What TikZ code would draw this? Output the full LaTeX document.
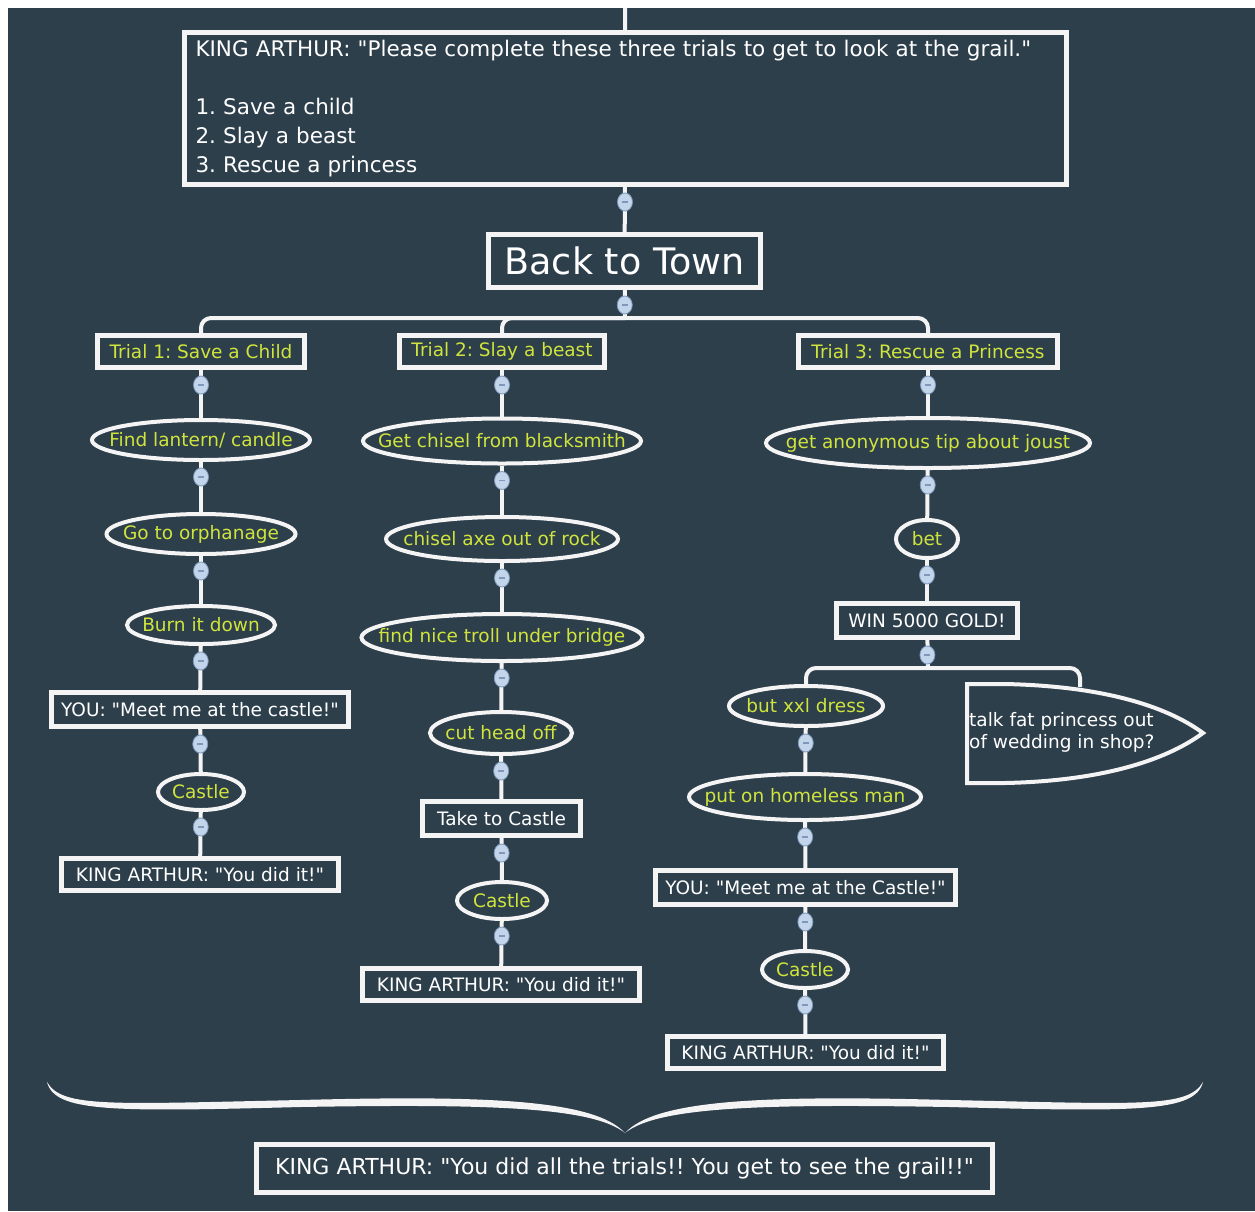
\documentclass[tikz,border=0pt]{standalone}
\usepackage{fontspec}
\setmainfont[Ligatures=TeXOff]{DejaVu Sans}
\frenchspacing
\usetikzlibrary{shapes.geometric}
\definecolor{bg}{HTML}{2E3F4C}
\definecolor{edge}{HTML}{F4F4F4}
\definecolor{hint}{HTML}{CFE43C}
\definecolor{tog}{HTML}{C3D5EA}
\definecolor{togdark}{HTML}{7D98BA}
\def\tx#1{\makebox[0pt]{#1}}
\def\hop#1#2{\draw[link] (#1) -- node[toggle, pos=0, yshift=-15pt] {} (#2);}
\tikzset{
	box/.style={rectangle, draw=edge, line width=5pt, fill=bg, inner sep=0pt, text=white, font=\fontsize{18.5}{22}\selectfont},
	trial/.style={box, text=hint},
	task/.style={ellipse, draw=edge, line width=4pt, fill=bg, inner sep=0pt, text=hint, font=\fontsize{18.5}{22}\selectfont},
	link/.style={draw=edge, line width=4pt},
	toggle/.style={ellipse, minimum width=15pt, minimum height=18pt, inner sep=0pt, fill=tog, draw=togdark, line width=0.8pt,
		path picture={\draw[togdark, line width=1.5pt] ([xshift=-3pt]path picture bounding box.center) -- ([xshift=3pt]path picture bounding box.center);}}
}

\begin{document}
\begin{tikzpicture}[x=1pt, y=-1pt]
			%%%%% START %%%%%
			\useasboundingbox (0,0) rectangle (1255,1211);
			\fill[white] (0,0) rectangle (1255,1211);
			\fill[bg] (8,8) rectangle (1255,1211);
			
			\node[box, minimum width=882pt, minimum height=152pt, text width=860pt, align=left, font=\fontsize{21.5}{29}\selectfont] (intro) at (625.5,108.5)
				{\mbox{KING ARTHUR: "Please complete these three trials to get to look at the grail."}\\[29pt]1. Save a child\\2. Slay a beast\\3. Rescue a princess};
			\node[box, minimum width=272pt, minimum height=53pt, font=\fontsize{36.5}{40}\selectfont] (town) at (624.5,261) {Back to Town};
			
			\node[trial, minimum width=207pt, minimum height=32pt] (trial1) at (201,351.5) {Trial 1: Save a Child};
			\node[trial, minimum width=205pt, minimum height=32pt] (trial2) at (502,351.5) {Trial 2: Slay a beast};
			\node[trial, minimum width=259pt, minimum height=32pt] (trial3) at (928,351.5) {Trial 3: Rescue a Princess};
			
			% trial 1
			\node[task, minimum width=218pt, minimum height=40pt] (lantern) at (201,440) {\tx{Find lantern/ candle}};
			\node[task, minimum width=189pt, minimum height=40pt] (orphan) at (201,534) {\tx{Go to orphanage}};
			\node[task, minimum width=148pt, minimum height=38pt] (burn) at (201,625) {\tx{Burn it down}};
			\node[box, minimum width=297pt, minimum height=34pt] (meet1) at (200,709.5) {YOU: "Meet me at the castle!"};
			\node[task, minimum width=86pt, minimum height=36pt] (castle1) at (201,792) {\tx{Castle}};
			\node[box, minimum width=277pt, minimum height=32pt] (done1) at (200,874.5) {KING ARTHUR: "You did it!"};
			
			% trial 2
			\node[task, minimum width=278pt, minimum height=45pt] (chisel) at (502,441) {\tx{Get chisel from blacksmith}};
			\node[task, minimum width=232pt, minimum height=44pt] (axe) at (502,539) {\tx{chisel axe out of rock}};
			\node[task, minimum width=281pt, minimum height=47pt] (troll) at (502,637.5) {\tx{find nice troll under bridge}};
			\node[task, minimum width=142pt, minimum height=42pt] (head) at (501,733) {\tx{cut head off}};
			\node[box, minimum width=158pt, minimum height=34pt] (take) at (501.5,818.5) {Take to Castle};
			\node[task, minimum width=90pt, minimum height=37pt] (castle2) at (502,900.5) {\tx{Castle}};
			\node[box, minimum width=277pt, minimum height=32pt] (done2) at (501,984.5) {KING ARTHUR: "You did it!"};
			
			% trial 3
			\node[task, minimum width=324pt, minimum height=50pt] (tip) at (928,443) {\tx{get anonymous tip about joust}};
			\node[task, minimum width=62pt, minimum height=38pt] (bet) at (927,539) {\tx{bet}};
			\node[box, minimum width=181pt, minimum height=34pt] (gold) at (927,620.5) {WIN 5000 GOLD!};
			\node[task, minimum width=154pt, minimum height=40pt] (dress) at (806,706) {\tx{but xxl dress}};
			\node[task, minimum width=232pt, minimum height=46pt] (homeless) at (805,797) {\tx{put on homeless man}};
			\node[box, minimum width=300pt, minimum height=34pt] (meet3) at (805.5,887.5) {YOU: "Meet me at the Castle!"};
			\node[task, minimum width=86pt, minimum height=37pt] (castle3) at (805,969.5) {\tx{Castle}};
			\node[box, minimum width=276pt, minimum height=32pt] (done3) at (805.5,1052.5) {KING ARTHUR: "You did it!"};
			
			\coordinate (top) at (625,8);
			\coordinate (split) at (625,318);
			\coordinate (split3) at (928,668);
			\coordinate (shoptop) at (1080,687);
			
			\draw[link] (top) -- (intro);
			\hop{intro}{town}
			\hop{town}{split}
			\draw[link, rounded corners=10pt] (split) -| (trial1);
			\draw[link, rounded corners=10pt] (split) -| (trial2);
			\draw[link, rounded corners=10pt] (split) -| (trial3);
			
			\hop{trial1}{lantern} \hop{lantern}{orphan} \hop{orphan}{burn}
			\hop{burn}{meet1} \hop{meet1}{castle1} \hop{castle1}{done1}
			
			\hop{trial2}{chisel} \hop{chisel}{axe} \hop{axe}{troll} \hop{troll}{head}
			\hop{head}{take} \hop{take}{castle2} \hop{castle2}{done2}
			
			\hop{trial3}{tip} \hop{tip}{bet} \hop{bet}{gold}
			\hop{gold}{split3}
			\draw[link, rounded corners=10pt] (split3) -| (dress);
			\draw[link, rounded corners=10pt] (split3) -| (shoptop);
			\hop{dress}{homeless} \hop{homeless}{meet3} \hop{meet3}{castle3} \hop{castle3}{done3}
			
			% pointed box on the right
			\draw[draw=edge, fill=bg, line width=4pt] (967,684) -- (1005,684) .. controls (1100,686) and (1165,705) .. (1203,733)
				.. controls (1165,761) and (1100,781) .. (1005,783) -- (967,783) -- cycle;
			\node[anchor=west, align=left, inner sep=0pt, text=white, font=\fontsize{18.5}{22}\selectfont] (shop) at (969,732)
				{talk fat princess out\\of wedding in shop?};
			
			% brace
			\fill[edge] (47,1082) .. controls (62,1108) and (110,1104) .. (300,1100) .. controls (490,1095) and (595,1100) .. (625,1133)
				.. controls (592,1106) and (480,1104) .. (300,1107) .. controls (110,1112) and (55,1112) .. cycle;
			\fill[edge] (1203,1082) .. controls (1188,1108) and (1140,1104) .. (950,1100) .. controls (760,1095) and (655,1100) .. (625,1133)
				.. controls (658,1106) and (770,1104) .. (950,1107) .. controls (1140,1112) and (1195,1112) .. cycle;
			
			\node[box, minimum width=736pt, minimum height=48pt, font=\fontsize{22}{26}\selectfont] (grail) at (624.5,1168.5)
				{KING ARTHUR: "You did all the trials!! You get to see the grail!!"};
			%%%%% END %%%%%
\end{tikzpicture}
\end{document}
